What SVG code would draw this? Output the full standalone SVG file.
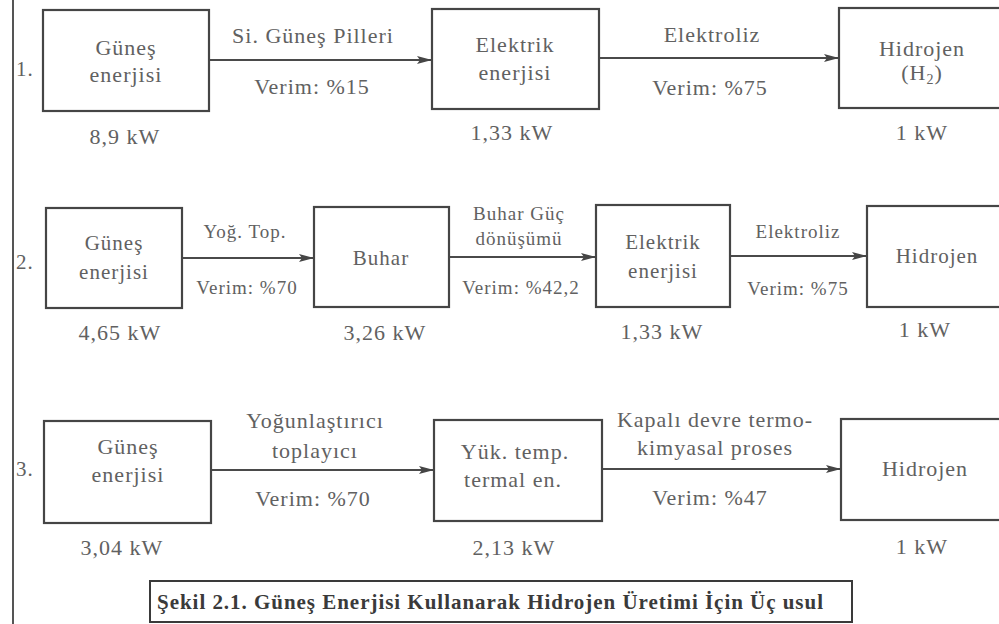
<svg xmlns="http://www.w3.org/2000/svg" width="999" height="624" viewBox="0 0 999 624">
<style>
text{font-family:"Liberation Serif","DejaVu Serif",serif;fill:#616161;text-anchor:middle;letter-spacing:1px}
.l{font-size:22px}
.m{font-size:21px}
.s{font-size:19px}
.n{font-size:21px;text-anchor:start}
.cap{font-size:21px;font-weight:bold;fill:#3a3a3a;text-anchor:start;letter-spacing:0}
.box{fill:#fff;stroke:#454545;stroke-width:2.2}
.ar{stroke:#4a4a4a;stroke-width:2;fill:none;marker-end:url(#ah)}
</style>
<defs>
<marker id="ah" markerUnits="userSpaceOnUse" markerWidth="16" markerHeight="10" refX="15" refY="5" orient="auto">
<path d="M0,1 L15,5 L0,9 L3,5 Z" fill="#454545"/>
</marker>
</defs>
<rect width="999" height="624" fill="#fff"/>
<line x1="13" y1="0" x2="13" y2="624" stroke="#555" stroke-width="2"/>
<text class="n" x="16" y="76">1.</text>
<text class="n" x="16" y="269">2.</text>
<text class="n" x="16" y="476">3.</text>

<g id="connectors">
<line class="ar" x1="209" y1="60" x2="432" y2="60"/>
<line class="ar" x1="599" y1="58" x2="839" y2="58"/>
<line class="ar" x1="182" y1="258" x2="314" y2="258"/>
<line class="ar" x1="449" y1="257" x2="596" y2="257"/>
<line class="ar" x1="730" y1="256" x2="867" y2="256"/>
<line class="ar" x1="211" y1="470" x2="434" y2="470"/>
<line class="ar" x1="602" y1="469" x2="841" y2="469"/>
<text class="l" x="313" y="43">Si. Güneş Pilleri</text>
<text class="l" x="312" y="94">Verim: %15</text>
<text class="l" x="712" y="42">Elektroliz</text>
<text class="l" x="710" y="95">Verim: %75</text>
<text class="s" x="245" y="238">Yoğ. Top.</text>
<text class="s" x="247" y="294">Verim: %70</text>
<text class="s" x="519" y="220">Buhar Güç</text>
<text class="s" x="519" y="245">dönüşümü</text>
<text class="s" x="521" y="294">Verim: %42,2</text>
<text class="s" x="798" y="238">Elektroliz</text>
<text class="s" x="798" y="295">Verim: %75</text>
<text class="l" x="315" y="428">Yoğunlaştırıcı</text>
<text class="l" x="315" y="458">toplayıcı</text>
<text class="l" x="313" y="506">Verim: %70</text>
<text class="l" x="715" y="427">Kapalı devre termo-</text>
<text class="l" x="715" y="455">kimyasal proses</text>
<text class="l" x="710" y="505">Verim: %47</text>
</g>

<g id="r1-gunes">
<rect class="box" x="43" y="10" width="166" height="101"/>
<text class="l" x="126" y="55">Güneş</text>
<text class="l" x="126" y="82">enerjisi</text>
<text class="l" x="125" y="144">8,9 kW</text>
</g>
<g id="r1-elektrik">
<rect class="box" x="432" y="9" width="167" height="100"/>
<text class="l" x="515" y="52">Elektrik</text>
<text class="l" x="515" y="80">enerjisi</text>
<text class="l" x="512" y="140">1,33 kW</text>
</g>
<g id="r1-hidrojen">
<rect class="box" x="839" y="8" width="200" height="100"/>
<text class="l" x="922" y="56">Hidrojen</text>
<text class="l" x="922" y="80">(H<tspan font-size="14" dy="4">2</tspan><tspan dy="-4">)</tspan></text>
<text class="l" x="922" y="140">1 kW</text>
</g>

<g id="r2-gunes">
<rect class="box" x="46" y="208" width="136" height="100"/>
<text class="m" x="114" y="250">Güneş</text>
<text class="m" x="114" y="279">enerjisi</text>
<text class="l" x="120" y="340">4,65 kW</text>
</g>
<g id="r2-buhar">
<rect class="box" x="314" y="207" width="135" height="100"/>
<text class="m" x="381" y="265">Buhar</text>
<text class="l" x="385" y="340">3,26 kW</text>
</g>
<g id="r2-elektrik">
<rect class="box" x="596" y="205" width="134" height="102"/>
<text class="m" x="663" y="249">Elektrik</text>
<text class="m" x="663" y="278">enerjisi</text>
<text class="l" x="662" y="339">1,33 kW</text>
</g>
<g id="r2-hidrojen">
<rect class="box" x="867" y="206" width="200" height="101"/>
<text class="m" x="937" y="263">Hidrojen</text>
<text class="l" x="925" y="337">1 kW</text>
</g>

<g id="r3-gunes">
<rect class="box" x="44" y="421" width="167" height="102"/>
<text class="l" x="128" y="454">Güneş</text>
<text class="l" x="128" y="482">enerjisi</text>
<text class="l" x="122" y="555">3,04 kW</text>
</g>
<g id="r3-termal">
<rect class="box" x="434" y="420" width="168" height="101"/>
<text class="l" x="515" y="459">Yük. temp.</text>
<text class="l" x="513" y="487">termal en.</text>
<text class="l" x="514" y="555">2,13 kW</text>
</g>
<g id="r3-hidrojen">
<rect class="box" x="841" y="419" width="200" height="101"/>
<text class="l" x="925" y="476">Hidrojen</text>
<text class="l" x="922" y="554">1 kW</text>
</g>

<g id="caption">
<rect x="150" y="581" width="702" height="41" fill="#fff" stroke="#3a3a3a" stroke-width="2"/>
<text class="cap" x="157" y="609" textLength="666" lengthAdjust="spacing">Şekil 2.1. Güneş Enerjisi Kullanarak Hidrojen Üretimi İçin Üç usul</text>
</g>
</svg>
